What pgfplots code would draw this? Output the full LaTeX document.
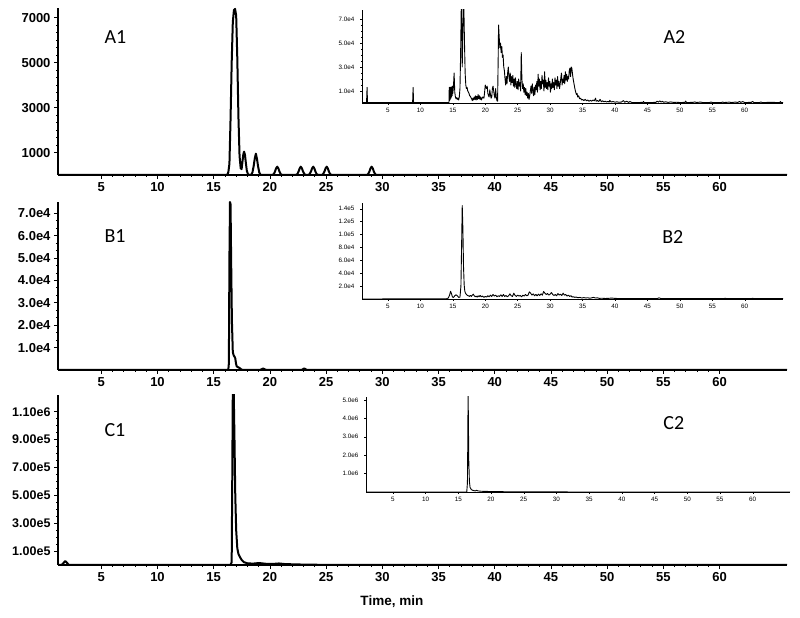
\documentclass[border=0pt]{standalone}
\usepackage{fontspec}
\setmainfont{Liberation Sans}
\newfontfamily\calibri{Carlito}
\usepackage{pgfplots}
\pgfplotsset{compat=1.18}

\tikzset{plabel/.style={anchor=base west, font=\calibri\fontsize{20}{20}\selectfont}}
\pgfplotsset{
  main/.style={
    scale only axis, width=729pt, xmin=1.15, xmax=66, ymin=0,
    axis x line*=bottom, axis y line*=left,
    axis line style={-, line width=1.2pt},
    tick align=outside, major tick length=4pt, minor tick length=2pt,
    tick style={line width=0.8pt, black},
    xtick={5,10,...,60}, minor x tick num=4,
    scaled y ticks=false,
    ticklabel style={font=\bfseries\fontsize{13}{13}\selectfont},
    /pgf/number format/assume math mode=true,
    cycle list={{black}}, no markers,
    every axis plot/.append style={line width=2pt, black, line join=round},
  },
  inset/.style={
    scale only axis, width=421pt, xmin=1, xmax=65.9, ymin=0,
    axis x line*=bottom, axis y line*=left,
    axis line style={-, line width=0.6pt},
    tick align=outside, major tick length=2pt, minor tick length=1.2pt,
    tick style={line width=0.4pt, black},
    xtick={5,10,...,60},
    scaled y ticks=false,
    ticklabel style={font=\fontsize{6.3}{6.3}\selectfont},
    yticklabel style={xshift=-2pt},
    /pgf/number format/assume math mode=true,
    cycle list={{black}}, no markers,
    every axis plot/.append style={line width=0.9pt, black, line join=round},
  },
}

\begin{document}
\begin{tikzpicture}
\useasboundingbox (0,0) rectangle (800pt,618pt);

% ---------- A1 ----------
\begin{axis}[main, at={(58pt,443pt)}, anchor=south west, height=167pt, ymax=7440,
  ytick={1000,3000,5000,7000}, yticklabels={1000,3000,5000,7000}, minor y tick num=5]
\addplot coordinates {(1.15,0) (16.2,0) (16.3,120) (16.4,500) (16.5,2500) (16.6,5000)
 (16.7,6800) (16.8,7350) (16.9,7400) (17.0,7100) (17.1,5200) (17.2,2600) (17.3,850)
 (17.4,300) (17.48,260) (17.55,550) (17.63,900) (17.7,1040) (17.78,900) (17.87,500)
 (17.95,180) (18.05,40) (18.2,0) (18.35,20) (18.45,120) (18.55,380) (18.65,720)
 (18.75,950) (18.85,720) (18.95,380) (19.05,120) (19.15,20) (19.3,0)
 (20.15,0) (20.25,11) (20.35,50) (20.45,152) (20.55,296) (20.65,370) (20.75,296) (20.85,152) (20.95,50) (21.05,11) (21.15,0)
 (22.25,0) (22.35,11) (22.45,50) (22.55,152) (22.65,296) (22.75,370) (22.85,296) (22.95,152) (23.05,50) (23.15,11) (23.25,0)
 (23.35,0) (23.45,11) (23.55,50) (23.65,152) (23.75,296) (23.85,370) (23.95,296) (24.05,152) (24.15,50) (24.25,11) (24.35,0)
 (24.55,0) (24.65,11) (24.75,50) (24.85,152) (24.95,296) (25.05,370) (25.15,296) (25.25,152) (25.35,50) (25.45,11) (25.55,0)
 (28.55,0) (28.65,11) (28.75,50) (28.85,152) (28.95,296) (29.05,370) (29.15,296) (29.25,152) (29.35,50) (29.45,11) (29.55,0)
 (66,0)};
\node[plabel] at (rel axis cs:0.059,0.79) {A1};
\end{axis}

% ---------- A2 ----------
\begin{axis}[inset, at={(362pt,515pt)}, anchor=south west, height=93pt, ymax=77500,
  ytick={10000,30000,50000,70000}, yticklabels={1.0e4,3.0e4,5.0e4,7.0e4}, minor y tick num=3]
\addplot coordinates {(1.0,300) (1.7,300) (1.78,13000) (1.85,300) (8.8,300) (8.88,13000)
 (8.95,300) (14.4,300) (14.45,13000) (14.5,2000) (14.55,13000) (14.6,3000) (14.65,13000)
 (14.7,4000) (14.75,13500) (14.8,5000) (14.85,13000) (14.9,6000) (14.95,14000) (15.0,8000)
 (15.1,14000) (15.2,25000) (15.3,9000) (15.4,5000) (15.5,3500) (15.6,4500) (15.7,3000)
 (15.8,4000) (15.9,2500) (16.0,5000) (16.1,12000) (16.2,40000) (16.3,80000) (16.4,60000)
 (16.45,30000) (16.5,45000) (16.6,80000) (16.7,80000) (16.8,50000) (16.9,25000) (17.0,15000)
 (17.1,12000) (17.2,13000) (17.3,10000) (17.4,9000) (17.5,8000) (17.6,6000) (17.7,5500)
 (17.8,4500) (17.9,3500) (18.0,2000) (18.1,4000) (18.2,2500) (18.3,5000) (18.4,3000)
 (18.5,6000) (18.6,2500) (18.7,5500) (18.8,3000) (18.9,7000) (19.0,3500) (19.1,6000)
 (19.2,3000) (19.3,5000) (19.4,2500) (19.6,5000) (19.8,4000) (19.9,9000) (20.0,15000)
 (20.1,13000) (20.2,12000) (20.3,14000) (20.4,8000) (20.5,6000) (20.6,5000) (20.7,11000)
 (20.8,7000) (20.9,4000) (21.0,5000) (21.1,12000) (21.2,14000) (21.3,10000) (21.4,6000)
 (21.5,4000) (21.6,12000) (21.7,5000) (21.8,2000) (21.9,1500) (22.0,40000) (22.05,65000)
 (22.15,55000) (22.25,46000) (22.35,50000) (22.45,42000) (22.55,47000) (22.65,38000)
 (22.75,40000) (22.85,30000) (22.95,27000) (23.05,20000) (23.15,15000) (23.25,22000)
 (23.35,16000) (23.45,25000) (23.55,30000) (23.65,22000) (23.75,18000) (23.85,25000)
 (23.95,15000) (24.05,22000) (24.15,17000) (24.25,23000) (24.35,14000) (24.45,20000)
 (24.55,13000) (24.65,21000) (24.75,16000) (24.85,12000) (24.95,18000) (25.05,11000)
 (25.15,20000) (25.25,14000) (25.35,17000) (25.45,10000) (25.55,42000) (25.65,20000)
 (25.75,12000) (25.85,16000) (25.95,9000) (26.05,13000) (26.15,7000) (26.25,12000)
 (26.35,6000) (26.45,9000) (26.55,4000) (26.65,8000) (26.75,3000) (26.85,6000) (26.95,10000)
 (27.05,14000) (27.15,8000) (27.25,16000) (27.35,10000) (27.45,6000) (27.55,13000)
 (27.65,7000) (27.75,15000) (27.85,11000) (27.95,18000) (28.05,9000) (28.15,24000)
 (28.25,14000) (28.35,20000) (28.45,11000) (28.55,18000) (28.65,12000) (28.75,23000)
 (28.85,16000) (28.95,19000) (29.05,10000) (29.15,26000) (29.25,13000) (29.35,19000)
 (29.45,12000) (29.55,17000) (29.65,11000) (29.75,21000) (29.85,14000) (29.95,18000)
 (30.05,9000) (30.15,16000) (30.25,12000) (30.35,20000) (30.45,13000) (30.55,17000)
 (30.65,11000) (30.75,21000) (30.85,15000) (30.95,19000) (31.05,12000) (31.15,22000)
 (31.25,14000) (31.35,18000) (31.45,12000) (31.55,16000) (31.65,21000) (31.75,25000)
 (31.85,15000) (31.95,20000) (32.05,17000) (32.15,23000) (32.25,16000) (32.35,26000)
 (32.45,19000) (32.55,24000) (32.65,18000) (32.75,22000) (32.85,20000) (32.95,27000)
 (33.05,29000) (33.15,22000) (33.25,30000) (33.35,29000) (33.45,24000) (33.55,20000)
 (33.65,17000) (33.75,14000) (33.85,11000) (33.95,9000) (34.05,7000) (34.15,8000)
 (34.25,5000) (34.4,6000) (34.55,3500) (34.7,4000) (34.85,2500) (35.0,3000) (35.2,2000)
 (35.4,3000) (35.6,1800) (35.8,2500) (36.0,1500) (36.2,2200) (36.4,1500) (36.6,2500)
 (36.8,1800) (37.0,4000) (37.1,1500) (37.3,2000) (37.5,1200) (37.7,3000) (37.9,1000)
 (38.1,1800) (38.3,1000) (38.5,1500) (38.7,800) (38.9,1300) (39.1,800) (39.2,2200)
 (39.4,800) (39.7,1200) (40.0,700) (40.3,1000) (40.6,600) (41.0,800) (41.3,2000) (41.5,600)
 (41.8,1500) (42.1,500) (42.3,1200) (42.6,400) (43.5,400) (44.3,500) (44.4,1200) (44.5,400)
 (45.5,400) (46.3,500) (46.5,1500) (46.7,700) (46.9,1800) (47.1,800) (47.3,1400) (47.5,600)
 (47.8,1000) (48.2,500) (48.6,900) (49.0,500) (49.5,600) (50.0,400) (50.8,500) (50.9,1600)
 (51.0,400) (52.0,500) (52.3,900) (52.6,400) (53.2,800) (53.5,400) (54.6,400) (54.8,900)
 (55.0,400) (56.4,400) (56.6,800) (56.8,400) (57.6,700) (58.0,400) (58.6,800) (58.9,400)
 (59.2,1300) (59.4,500) (59.7,1200) (60.0,400) (61.0,500) (61.2,1300) (61.4,400) (62.3,400)
 (62.5,900) (62.7,400) (64.0,500) (65.4,400) (65.5,1200) (65.6,400) (65.9,400)};
\node[plabel] at (rel axis cs:0.708,0.645) {A2};
\end{axis}

% ---------- B1 ----------
\begin{axis}[main, at={(58pt,248pt)}, anchor=south west, height=168pt, ymax=75000,
  ytick={10000,20000,...,70000},
  yticklabels={1.0e4,2.0e4,3.0e4,4.0e4,5.0e4,6.0e4,7.0e4}, minor y tick num=2]
\addplot coordinates {(1.15,0) (16.3,0) (16.35,3000) (16.4,50000) (16.45,75000)
 (16.5,74000) (16.55,50000) (16.62,22000) (16.7,8000) (16.78,6500) (16.85,6000)
 (16.92,5200) (16.98,3000) (17.05,1600) (17.15,1300) (17.3,900) (17.45,300) (17.6,0)
 (19.1,0) (19.3,400) (19.4,700) (19.5,400) (19.7,0) (22.8,0) (22.95,400) (23.05,700)
 (23.15,400) (23.3,0) (66,0)};
\node[plabel] at (rel axis cs:0.059,0.756) {B1};
\end{axis}

% ---------- B2 ----------
\begin{axis}[inset, at={(362pt,319pt)}, anchor=south west, height=96pt, ymax=149000,
  ytick={20000,40000,...,140000},
  yticklabels={2.0e4,4.0e4,6.0e4,8.0e4,1.0e5,1.2e5,1.4e5}]
\addplot coordinates {(1.0,0) (14.0,300) (14.3,1500) (14.5,6000) (14.65,12000) (14.8,8000)
 (14.95,3000) (15.1,2500) (15.3,5000) (15.5,6500) (15.7,5000) (15.9,2500) (16.1,3000)
 (16.25,20000) (16.35,80000) (16.45,145000) (16.55,110000) (16.65,50000) (16.75,22000)
 (16.85,12000) (16.95,9000) (17.1,7000) (17.25,5500) (17.4,5000) (17.55,4000) (17.7,5500)
 (17.85,4000) (18.0,6000) (18.15,7500) (18.3,5000) (18.45,3500) (18.6,4500) (18.75,3000)
 (18.9,5000) (19.05,3500) (19.2,5500) (19.4,3500) (19.6,4500) (19.8,2500) (20.0,4000)
 (20.2,3000) (20.4,5000) (20.6,3500) (20.8,6000) (21.0,4000) (21.2,7000) (21.4,4500)
 (21.6,6000) (21.8,3500) (22.0,5000) (22.2,4000) (22.4,6500) (22.6,4000) (22.8,7000)
 (23.0,4000) (23.2,5500) (23.4,3500) (23.6,5000) (23.8,8000) (24.0,5000) (24.2,4000)
 (24.4,9000) (24.6,5500) (24.8,4000) (25.0,6000) (25.2,4500) (25.4,5500) (25.6,3500)
 (25.8,6000) (26.0,4500) (26.2,7000) (26.4,5000) (26.6,6000) (26.8,11000) (27.0,9000)
 (27.2,6000) (27.4,8000) (27.6,5000) (27.8,7000) (28.0,5000) (28.2,7500) (28.4,5500)
 (28.6,8000) (28.8,6000) (29.0,11500) (29.2,9000) (29.4,7000) (29.6,8500) (29.8,6000)
 (30.0,7500) (30.2,10000) (30.4,7000) (30.6,5500) (30.8,7000) (31.0,5000) (31.2,8500)
 (31.4,6000) (31.6,7500) (31.8,5500) (32.0,9000) (32.2,6000) (32.4,7000) (32.6,4500)
 (32.8,6000) (33.0,4000) (33.2,5000) (33.4,3000) (33.6,3500) (33.8,2500) (34.0,3000)
 (34.3,2000) (34.6,2500) (34.9,1500) (35.2,2200) (35.5,1500) (35.8,2000) (36.1,1200)
 (36.4,1800) (36.7,2500) (37.0,1500) (37.3,1800) (37.6,1000) (38.0,1200) (38.5,800)
 (39.0,1000) (39.5,1500) (40.0,900) (41.0,700) (42.0,600) (44.0,500) (46.5,600)
 (46.8,1800) (47.1,600) (50.0,500) (52.0,600) (55.0,500) (56.8,600) (57.0,1200) (57.2,500)
 (61.0,500) (61.2,1200) (61.4,500) (65.9,500)};
\node[plabel] at (rel axis cs:0.705,0.573) {B2};
\end{axis}

% ---------- C1 ----------
\begin{axis}[main, at={(58pt,53pt)}, anchor=south west, height=170pt, ymax=1220000,
  ytick={100000,300000,500000,700000,900000,1100000},
  yticklabels={1.00e5,3.00e5,5.00e5,7.00e5,9.00e5,1.10e6}, minor y tick num=3,
  yticklabel style={font=\bfseries\fontsize{12.5}{12.5}\selectfont},
  xlabel={Time, min},
  xlabel style={at={(axis description cs:0.458,0)}, anchor=center, yshift=-37pt,
    font=\bfseries\fontsize{13.5}{13.5}\selectfont}]
\addplot coordinates {(1.15,0) (1.5,2000) (1.7,20000) (1.8,28000) (1.9,20000) (2.1,2000)
 (2.5,0) (16.5,0) (16.6,20000) (16.65,600000) (16.7,1250000) (16.78,1250000)
 (16.85,900000) (16.92,500000) (17.0,250000) (17.1,120000) (17.2,80000) (17.35,55000)
 (17.5,35000) (17.7,20000) (18.0,12000) (18.5,10000) (19.0,14000) (19.3,12000)
 (19.7,8000) (20.3,8000) (20.8,11000) (21.3,7000) (22.0,5000) (23.0,3000) (25.0,1000)
 (28,0) (66,0)};
\node[plabel] at (rel axis cs:0.059,0.753) {C1};
\end{axis}

% ---------- C2 ----------
\begin{axis}[inset, at={(366pt,126pt)}, anchor=south west, width=424pt, height=95pt,
  xmin=0.9, xmax=65.7, ymax=5160000,
  ytick={1000000,2000000,3000000,4000000,5000000},
  yticklabels={1.0e6,2.0e6,3.0e6,4.0e6,5.0e6}]
\addplot coordinates {(0.9,0) (16.3,0) (16.4,500000) (16.45,2500000) (16.5,5300000)
 (16.55,4000000) (16.6,1800000) (16.7,600000) (16.8,250000) (17.0,130000) (17.3,80000)
 (17.6,60000) (17.8,90000) (18.0,60000) (18.5,40000) (19.5,30000) (20.5,25000)
 (21.5,20000) (22.5,10000) (25,5000) (30,3000) (40,1000) (65.7,0)};
\node[plabel] at (rel axis cs:0.693,0.663) {C2};
\end{axis}
\end{tikzpicture}
\end{document}
